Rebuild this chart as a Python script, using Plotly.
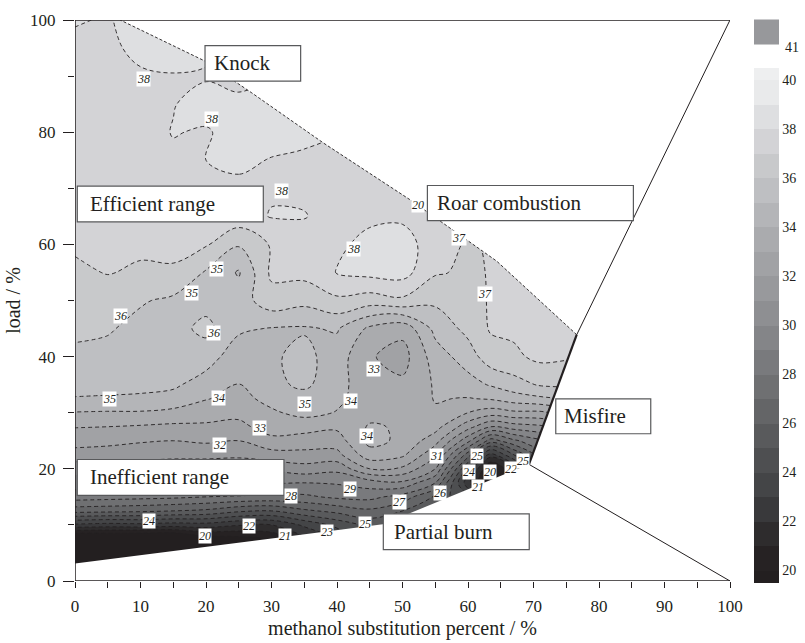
import plotly.graph_objects as go

# ---------------- data ----------------
x_grid = [0, 5, 10, 15, 20, 25, 30, 35, 40, 45, 50, 55, 60, 63.5, 67, 71, 76, 80]
y_grid = [0, 2.5, 5, 7.5, 10, 12.5, 15, 17.5, 20, 22.5, 25, 27.5, 30, 32.5, 35,
          40, 45, 50, 55, 60, 65, 70, 75, 80, 85, 90, 95, 100]

# efficiency values along each column (x), listed bottom (y=0) to top (y=100)
e_x00 = [18.4, 18.4, 18.4, 18.2, 22.8, 26.4, 28.5, 29.5, 30.4, 31.6, 32.4, 33.05, 33.95, 34.95, 35.3, 35.8, 36.2, 36.5, 36.8, 37.15, 37.25, 37.3, 37.35, 37.4, 37.45, 37.5, 37.7, 38.1]
e_x05 = [18.4, 18.4, 18.5, 18.3, 22.6, 26.3, 28.4, 29.4, 30.4, 31.5, 32.3, 33.0, 33.9, 34.9, 35.3, 35.7, 36.1, 36.4, 37.05, 37.1, 37.2, 37.25, 37.3, 37.35, 37.4, 37.5, 37.75, 37.9]
e_x10 = [18.4, 18.4, 18.5, 18.1, 22.7, 26.2, 28.3, 29.4, 30.4, 31.4, 32.1, 32.9, 33.9, 34.85, 35.25, 35.5, 35.7, 36.1, 36.85, 37.2, 37.3, 37.4, 37.5, 37.55, 37.65, 37.85, 38.3, 38.5]
e_x15 = [18.4, 18.4, 18.5, 18.1, 22.5, 26.0, 28.2, 29.3, 30.3, 31.3, 32.0, 32.8, 33.7, 34.7, 35.15, 35.45, 35.6, 35.8, 36.9, 37.2, 37.4, 37.55, 37.8, 38.05, 37.95, 37.95, 38.4, 38.7]
e_x20 = [18.4, 18.4, 18.6, 19.35, 22.6, 25.8, 28.0, 29.3, 30.3, 31.3, 32.15, 32.8, 33.5, 34.05, 34.6, 35.4, 36.3, 35.6, 35.9, 37.1, 37.5, 37.7, 38.0, 37.9, 38.4, 37.9, 38.2, 38.2]
e_x25 = [18.5, 18.6, 18.8, 19.6, 22.1, 25.2, 27.9, 29.2, 30.3, 31.2, 32.0, 32.7, 33.3, 33.7, 33.95, 34.5, 35.15, 35.5, 34.9, 36.1, 37.6, 37.8, 38.2, 38.4, 38.3, 37.6, 37.7, 37.8]
e_x30 = [19.0, 19.4, 19.8, 20.1, 22.0, 25.0, 27.8, 29.1, 30.2, 31.6, 32.7, 33.5, 33.85, 34.3, 34.75, 34.85, 34.95, 36.6, 37.2, 37.1, 38.05, 37.9, 37.95, 38.4, 38.3, 38.0, 38.0, 38.0]
e_x35 = [19.5, 20.2, 21.0, 21.7, 23.2, 25.8, 27.8, 29.0, 30.6, 31.7, 32.55, 33.4, 34.3, 34.6, 35.2, 35.3, 34.9, 36.3, 37.3, 37.5, 38.05, 37.8, 37.8, 38.3, 38.2, 38.1, 38.0, 38.0]
e_x40 = [20.5, 21.3, 22.2, 23.0, 24.3, 26.3, 28.2, 29.1, 30.3, 31.7, 32.5, 33.2, 33.95, 34.2, 34.4, 34.5, 35.1, 36.8, 38.05, 37.8, 37.6, 37.6, 37.7, 38.0, 38.0, 38.0, 38.0, 38.0]
e_x45 = [21.5, 22.5, 23.4, 24.3, 25.3, 26.8, 28.3, 29.5, 32.0, 33.6, 34.3, 34.1, 33.7, 33.5, 33.3, 33.1, 33.8, 36.5, 38.3, 38.3, 37.8, 37.6, 37.7, 37.8, 37.8, 37.8, 37.8, 37.8]
e_x50 = [22.0, 23.0, 24.0, 24.8, 25.3, 26.0, 27.6, 29.8, 31.8, 33.2, 33.8, 33.9, 33.6, 33.4, 33.2, 32.6, 33.3, 36.8, 38.4, 38.5, 37.8, 37.6, 37.6, 37.6, 37.6, 37.6, 37.6, 37.6]
e_x55 = [22.0, 23.0, 24.0, 24.8, 25.2, 25.4, 25.8, 28.0, 30.0, 31.2, 32.4, 33.4, 33.9, 34.05, 34.1, 34.5, 35.3, 36.2, 37.1, 37.4, 37.4, 37.4, 37.4, 37.4, 37.4, 37.4, 37.4, 37.4]
e_x60 = [22.0, 22.5, 23.0, 23.5, 24.0, 24.5, 24.0, 22.3, 23.8, 26.5, 29.3, 31.4, 33.0, 33.95, 34.6, 35.5, 36.3, 36.6, 36.85, 36.9, 37.2, 37.3, 37.3, 37.3, 37.3, 37.3, 37.3, 37.3]
e_x63 = [21.0, 21.0, 21.0, 21.0, 21.0, 21.0, 20.5, 19.4, 19.6, 22.5, 26.5, 30.0, 32.5, 34.1, 35.1, 36.6, 37.1, 37.1, 37.05, 37.1, 37.2, 37.3, 37.3, 37.3, 37.3, 37.3, 37.3, 37.3]
e_x67 = [22.0, 22.0, 22.0, 22.0, 22.0, 22.0, 22.0, 21.5, 22.0, 25.0, 27.8, 30.5, 32.8, 34.5, 35.6, 36.8, 37.2, 37.3, 37.3, 37.3, 37.3, 37.3, 37.3, 37.3, 37.3, 37.3, 37.3, 37.3]
e_x71 = [25.0, 25.0, 25.0, 25.0, 25.0, 25.0, 25.5, 26.0, 26.5, 27.5, 28.8, 30.8, 32.8, 34.8, 36.1, 37.25, 37.4, 37.4, 37.4, 37.4, 37.4, 37.4, 37.4, 37.4, 37.4, 37.4, 37.4, 37.4]
e_x76 = [26.0, 26.0, 26.0, 26.0, 26.0, 26.0, 26.5, 27.0, 27.5, 28.5, 29.5, 31.5, 33.5, 35.1, 36.2, 37.1, 37.3, 37.3, 37.3, 37.3, 37.3, 37.3, 37.3, 37.3, 37.3, 37.3, 37.3, 37.3]
e_x80 = [26.0, 26.0, 26.0, 26.0, 26.0, 26.0, 26.5, 27.0, 27.5, 28.5, 29.5, 31.5, 33.5, 35.1, 36.2, 37.1, 37.3, 37.3, 37.3, 37.3, 37.3, 37.3, 37.3, 37.3, 37.3, 37.3, 37.3, 37.3]

columns = [e_x00, e_x05, e_x10, e_x15, e_x20, e_x25, e_x30, e_x35, e_x40, e_x45,
           e_x50, e_x55, e_x60, e_x63, e_x67, e_x71, e_x76, e_x80]
z_grid = [list(row) for row in zip(*columns)]

# boundary of the operating region
lower_edge_x = [0, 47, 69.3]
lower_edge_y = [3.1, 10.1, 20.8]
misfire_edge_x = [69.3, 76.6]
misfire_edge_y = [20.8, 43.9]
knock_edge_x = [76.6, 64.4, 51.1, 37.9, 27.0, 19.8, 6.9]
knock_edge_y = [43.9, 57.0, 68.0, 78.1, 87.0, 92.7, 100.0]

# colour of each 1-unit band from 19-20 up to 39-40
band_levels = list(range(19, 40))
band_colors = ['#231f20', '#282526', '#333234', '#3e3f41', '#494a4c', '#535456',
               '#5e5f61', '#696a6c', '#747577', '#7e7f82', '#898a8d', '#939497',
               '#9c9da0', '#a5a6a9', '#afb0b3', '#b9babd', '#c3c4c6', '#cdcdd0',
               '#d8d9db', '#e3e4e6', '#eeeff0']

cbar_ticks = list(range(20, 41, 2))

# contour labels (text, x, y)
label_text = ['38', '38', '38', '38', '20', '37', '37', '35', '35', '36', '36', '33',
              '35', '34', '35', '34', '33', '32', '34', '31', '25', '24', '20', '21',
              '22', '25', '26', '27', '29', '28', '25', '23', '21', '22', '20', '24']
label_x = [10.4, 20.9, 31.6, 42.5, 52.4, 58.7, 62.6, 21.6, 17.8, 6.9, 21.1, 45.6,
           5.3, 21.9, 35.1, 42.0, 28.2, 22.1, 44.5, 55.2, 61.3, 60.2, 63.4, 61.6,
           66.6, 68.4, 55.8, 49.6, 42.0, 33.0, 44.3, 38.4, 32.0, 26.6, 19.8, 11.3]
label_y = [89.4, 82.3, 69.5, 59.1, 67.1, 61.2, 51.2, 55.7, 51.4, 47.2, 44.2, 37.8,
           32.4, 32.7, 31.5, 32.0, 27.3, 24.2, 25.8, 22.2, 22.2, 19.4, 19.4, 16.8,
           19.9, 21.4, 15.6, 14.0, 16.4, 15.1, 10.1, 8.7, 8.0, 9.8, 8.0, 10.7]

# region boxes: text, left x, top y, right x, bottom y, text start x
box_text = ['Knock', 'Roar combustion', 'Efficient range', 'Inefficient range',
            'Partial burn', 'Misfire']
box_x0 = [19.85, 53.8, 0.35, 0.35, 47.07, 73.4]
box_y1 = [95.45, 70.5, 70.4, 21.66, 11.98, 32.48]
box_x1 = [34.45, 85.25, 28.75, 31.9, 69.35, 87.9]
box_y0 = [89.1, 64.25, 64.0, 15.25, 5.6, 26.25]
box_tx = [20.9, 55.0, 2.0, 2.0, 48.4, 74.3]

INK = '#231f20'
SERIF = 'Liberation Serif, Times New Roman, serif'

# ---------------- figure ----------------
n = len(band_levels)
cscale = [[0, band_colors[0]]]
for i, c in enumerate(band_colors):
    cscale.append([(i + 0.5) / n, c])
cscale.append([1, band_colors[-1]])

fig = go.Figure()
# filled bands (with the colour bar, no lines)
fig.add_trace(go.Contour(
    x=x_grid, y=y_grid, z=z_grid,
    contours=dict(start=20, end=40, size=1, coloring='fill', showlines=False),
    line=dict(width=0, smoothing=1.0),
    colorscale=cscale,
    showscale=True,
    colorbar=dict(thickness=25, thicknessmode='pixels', len=515, lenmode='pixels',
                  x=1.0366, xanchor='left', xpad=0, y=-0.0027, yanchor='bottom', ypad=0,
                  outlinewidth=0, tickvals=cbar_ticks, ticks='',
                  tickfont=dict(family=SERIF, size=14, color=INK)),
    hoverinfo='skip',
))
# dashed iso-lines only
fig.add_trace(go.Contour(
    x=x_grid, y=y_grid, z=z_grid,
    contours=dict(start=20, end=40, size=1, coloring='none', showlines=True),
    line=dict(color=INK, width=0.9, dash='4px,3px', smoothing=1.0),
    showscale=False,
    hoverinfo='skip',
))

# white mask outside the operating region (even-odd path)
poly_x = lower_edge_x + misfire_edge_x[1:] + knock_edge_x[1:] + [0]
poly_y = lower_edge_y + misfire_edge_y[1:] + knock_edge_y[1:] + [100]
mask = 'M0,0 L100,0 L100,100 L0,100 Z M' + ' L'.join(
    f'{a},{b}' for a, b in zip(poly_x, poly_y)) + ' Z'
shapes = [dict(type='path', path=mask, fillcolor='white', line=dict(width=0),
               fillrule='evenodd', xref='x', yref='y', layer='above')]

# knock boundary (fine dashed)
kpath = 'M' + ' L'.join(f'{a},{b}' for a, b in zip(knock_edge_x, knock_edge_y))
shapes.append(dict(type='path', path=kpath, line=dict(color=INK, width=0.9, dash='3px,2px'),
                   xref='x', yref='y'))
# misfire edge (thick)
shapes.append(dict(type='line', x0=misfire_edge_x[0], y0=misfire_edge_y[0],
                   x1=misfire_edge_x[1], y1=misfire_edge_y[1],
                   line=dict(color=INK, width=2.2), xref='x', yref='y'))
# diagonal separators
shapes.append(dict(type='line', x0=misfire_edge_x[1], y0=misfire_edge_y[1], x1=100, y1=100,
                   line=dict(color=INK, width=1), xref='x', yref='y'))
shapes.append(dict(type='line', x0=misfire_edge_x[0], y0=misfire_edge_y[0], x1=100, y1=0,
                   line=dict(color=INK, width=1), xref='x', yref='y'))
# frame (left, bottom, top)
for (a0, b0, a1, b1) in [(0, 0, 0, 100), (0, 0, 100, 0), (0, 100, 100, 100)]:
    shapes.append(dict(type='line', x0=a0, y0=b0, x1=a1, y1=b1,
                       line=dict(color=INK, width=1.5), xref='x', yref='y'))
# region boxes
for i in range(len(box_text)):
    shapes.append(dict(type='rect', x0=box_x0[i], x1=box_x1[i], y0=box_y0[i], y1=box_y1[i],
                       fillcolor='white', line=dict(color='#58595b', width=1.2),
                       xref='x', yref='y'))
# colour swatch "41"
shapes.append(dict(type='rect', xref='paper', yref='paper', x0=1.0366, x1=1.0748,
                   y0=0.9563, y1=1.0009, fillcolor='#97989b', line=dict(width=0)))

annotations = []
for i in range(len(box_text)):
    annotations.append(dict(x=box_tx[i], y=(box_y0[i] + box_y1[i]) / 2, xref='x', yref='y',
                            text=box_text[i], showarrow=False, xanchor='left', yanchor='middle',
                            font=dict(family=SERIF, size=21, color=INK)))
for t, lx, ly in zip(label_text, label_x, label_y):
    annotations.append(dict(x=lx, y=ly, xref='x', yref='y', text=f'<i>{t}</i>',
                            showarrow=False, bgcolor='white', borderpad=0,
                            font=dict(family=SERIF, size=12, color=INK)))
annotations.append(dict(x=1.081, y=0.951, xref='paper', yref='paper', text='41',
                        showarrow=False, xanchor='left', yanchor='middle',
                        font=dict(family=SERIF, size=14, color=INK)))

fig.update_layout(
    width=805, height=643,
    margin=dict(l=75, r=75, t=20, b=62),
    paper_bgcolor='white', plot_bgcolor='white',
    shapes=shapes, annotations=annotations,
    showlegend=False,
    xaxis=dict(range=[0, 100], tickvals=list(range(0, 101, 10)), ticks='outside', ticklen=6,
               tickcolor=INK, tickwidth=1.2, showline=False, showgrid=False, zeroline=False,
               minor=dict(dtick=5, ticks='outside', ticklen=6, tickcolor=INK, tickwidth=1.2),
               ticklabelstandoff=4, automargin=False,
               tickfont=dict(family=SERIF, size=17, color=INK),
               title=dict(text='methanol substitution percent / %', standoff=5,
                          font=dict(family=SERIF, size=20, color=INK))),
    yaxis=dict(range=[0, 100], tickvals=list(range(0, 101, 20)), ticks='outside', ticklen=11,
               tickcolor=INK, tickwidth=1.2, showline=False, showgrid=False, zeroline=False,
               minor=dict(dtick=10, ticks='outside', ticklen=6, tickcolor=INK, tickwidth=1.2),
               ticklabelstandoff=4, automargin=False,
               tickfont=dict(family=SERIF, size=17, color=INK),
               title=dict(text='load / %', standoff=4,
                          font=dict(family=SERIF, size=20, color=INK))),
)

fig.write_html('out.html')
